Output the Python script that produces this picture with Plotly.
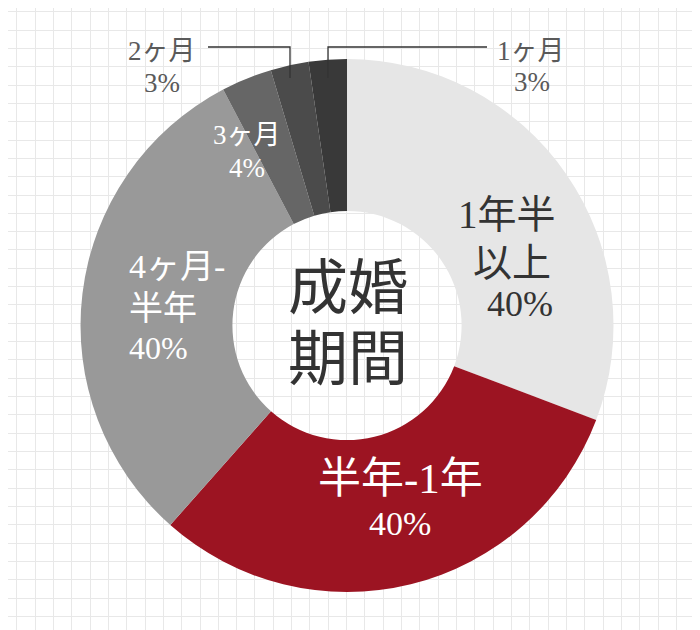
import plotly.graph_objects as go

# slices, clockwise from 12 o'clock
labels = ["1年半以上", "半年-1年", "4ヶ月-半年", "3ヶ月", "2ヶ月", "1ヶ月"]
values = [40, 40, 40, 4, 3, 3]
colors = ["#e6e6e6", "#9c1422", "#999999", "#666666", "#4b4b4b", "#393939"]

center_lines = ["成婚", "期間"]

FONT = "Liberation Serif, Noto Sans CJK JP"
OFF = 8  # page body margin, so axis units line up with screen pixels

fig = go.Figure()

# empty trace so the cartesian grid (graph paper) shows
fig.add_trace(go.Scatter(x=[], y=[], showlegend=False, hoverinfo="skip"))

fig.add_trace(go.Pie(
    labels=labels,
    values=values,
    marker=dict(colors=colors, line=dict(width=0)),
    hole=0.43,
    sort=False,
    direction="clockwise",
    rotation=0,
    textinfo="none",
    hoverinfo="label+value",
    showlegend=False,
    domain=dict(x=[0.1036, 0.865], y=[0.073, 0.919]),
))

pct = [f"{v}%" for v in values]

# (text, x, y, size, color) — x/y in screen pixels from top-left
ann = [
    ("1年半", 507, 214, 39, "#333333"),
    ("以上", 512, 262, 39, "#333333"),
    (pct[0], 520, 304, 36, "#333333"),
    ("半年-1年", 400, 478, 43, "#ffffff"),
    (pct[1], 400, 523, 34, "#ffffff"),
    ("4ヶ月-", 127, 266, 34, "#ffffff"),
    ("半年", 127, 308, 34, "#ffffff"),
    (pct[2], 127, 348, 32, "#ffffff"),
    ("3ヶ月", 247, 135, 27, "#ffffff"),
    (pct[3], 247, 168, 27, "#ffffff"),
    ("2ヶ月", 162, 51, 27, "#5a5a5a"),
    (pct[4], 162, 83, 27, "#5a5a5a"),
    ("1ヶ月", 531, 51, 27, "#5a5a5a"),
    (pct[5], 532, 82, 27, "#5a5a5a"),
    (center_lines[0], 348, 289, 60, "#333333"),
    (center_lines[1], 348, 360, 60, "#333333"),
]
for text, x, y, size, color in ann:
    xanchor = "left" if x == 127 else "center"
    fig.add_annotation(x=x, y=y, xref="x", yref="y", text=text, showarrow=False,
                       xanchor=xanchor, yanchor="middle",
                       font=dict(family=FONT, size=size, color=color))

# leader lines for the two small slices
line = dict(color="#333333", width=1.3)
fig.add_shape(type="path", path="M 208 47 L 290 47 L 290 78", xref="x", yref="y", line=line)
fig.add_shape(type="path", path="M 487 47 L 328 47 L 328 78", xref="x", yref="y", line=line)

fig.update_xaxes(range=[OFF, 700 + OFF], tick0=16.7, dtick=18.33, showgrid=True, gridcolor="#e8e8e8",
                 gridwidth=1, zeroline=False, showticklabels=False, ticks="", fixedrange=True)
fig.update_yaxes(range=[630 + OFF, OFF], tick0=11.7, dtick=18.33, showgrid=True, gridcolor="#e8e8e8",
                 gridwidth=1, zeroline=False, showticklabels=False, ticks="", fixedrange=True)

fig.update_layout(
    width=700, height=630,
    margin=dict(l=0, r=0, t=0, b=0),
    paper_bgcolor="white",
    plot_bgcolor="white",
)

fig.write_html("out.html")
